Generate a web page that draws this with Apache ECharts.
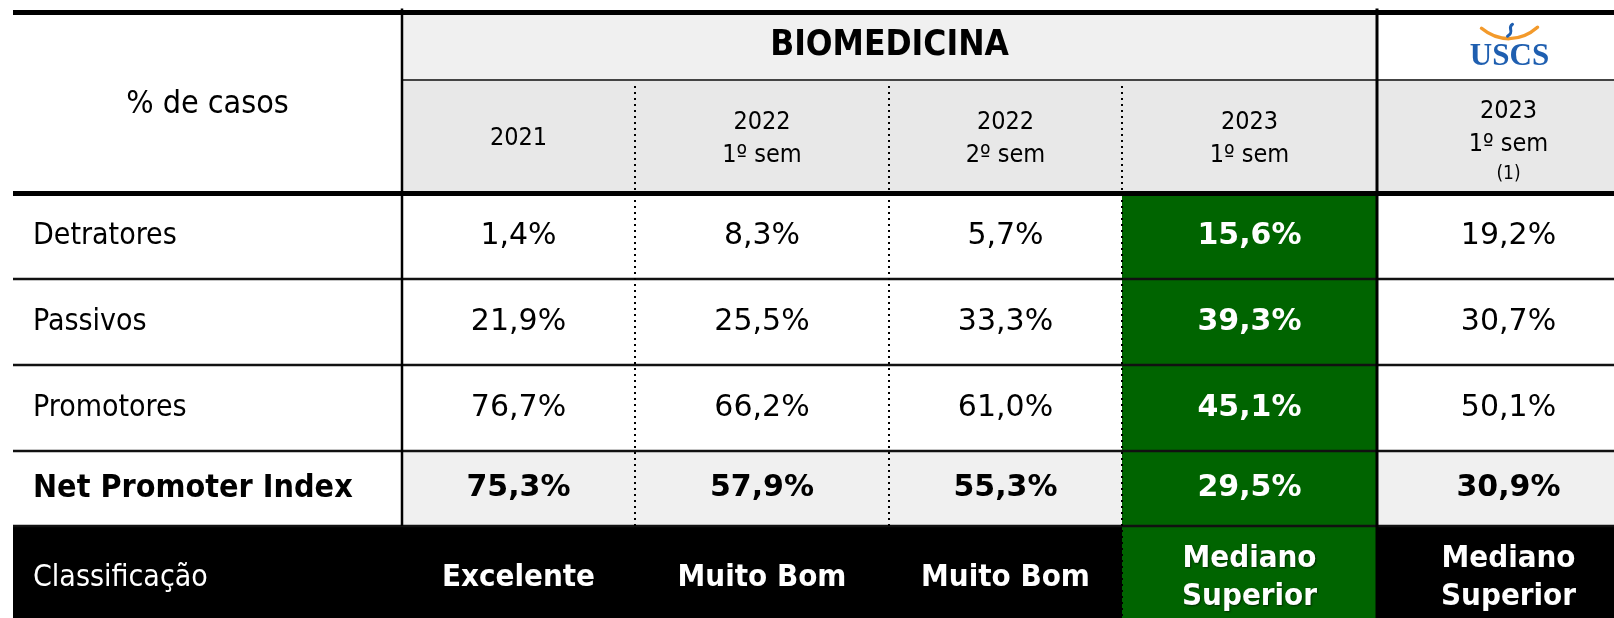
<!DOCTYPE html>
<html>
<head>
<meta charset="utf-8">
<script src="https://cdn.jsdelivr.net/npm/echarts@6/dist/echarts.min.js"></script>
<style>
  html, body { margin: 0; padding: 0; background: #fff; }
  #main { width: 1614px; height: 618px; }
</style>
</head>
<body>
<div id="main"></div>
<script>
// dados
const rowHeaderTitle = '% de casos';
const groupTitle = 'BIOMEDICINA';
const columns = ['2021', '2022\n1º sem', '2022\n2º sem', '2023\n1º sem', '2023\n1º sem\n(1)'];
const rowLabels = ['Detratores', 'Passivos', 'Promotores'];
const detratores = [1.4, 8.3, 5.7, 15.6, 19.2];
const passivos = [21.9, 25.5, 33.3, 39.3, 30.7];
const promotores = [76.7, 66.2, 61.0, 45.1, 50.1];
const npiLabel = 'Net Promoter Index';
const npi = [75.3, 57.9, 55.3, 29.5, 30.9];
const classLabel = 'Classificação';
const classificacao = ['Excelente', 'Muito Bom', 'Muito Bom', 'Mediano\nSuperior', 'Mediano\nSuperior'];
const highlightCol = 3;
const logoText = 'USCS';

(function () {

  let myChart = echarts.init(document.getElementById('main'));

  // layout (unidades do eixo = px)
  const colEdges = [13, 402, 635, 889, 1122, 1377, 1640];
  const rowEdges = [12.5, 80, 193.5, 279, 365, 451, 526, 630];
  const FONT = '"DejaVu Sans Condensed", "DejaVu Sans", sans-serif';
  const NUMFONT = '"DejaVu Sans", sans-serif';
  const green = '#006400';
  const grayA = '#f0f0f0';
  const grayB = '#e8e8e8';

  const fmt = v => v.toFixed(1).replace('.', ',') + '%';

  let cells = [];
  function cell(x0, x1, y0, y1, opts) {
    cells.push(Object.assign({ x0: x0, x1: x1, y0: y0, y1: y1, color: '#000', size: 30 }, opts));
  }

  cell(0, 1, 0, 2, { fill: '#fff', text: rowHeaderTitle, size: 32, dy: 2 });
  cell(1, 5, 0, 1, { fill: grayA, text: groupTitle, bold: true, size: 35 });
  cell(5, 6, 0, 1, { fill: '#fff', logo: true });
  columns.forEach((t, i) => {
    let rich = t.split('\n').map(s => (s.charAt(0) === '(' ? '{b|' : '{a|') + s + '}').join('\n');
    cell(i + 1, i + 2, 1, 2, { fill: grayB, rich: rich, dy: i === 4 ? 4 : 2 });
  });

  const rows = [detratores, passivos, promotores];
  rowLabels.forEach((lab, k) => {
    cell(0, 1, k + 2, k + 3, { fill: '#fff', text: lab, left: true });
    rows[k].forEach((v, i) => {
      let hl = i === highlightCol;
      cell(i + 1, i + 2, k + 2, k + 3, {
        fill: hl ? green : '#fff', text: fmt(v), bold: hl, num: true, color: hl ? '#fff' : '#000', size: 30
      });
    });
  });

  cell(0, 1, 5, 6, { fill: '#fff', text: npiLabel, left: true, bold: true, size: 32 });
  npi.forEach((v, i) => {
    let hl = i === highlightCol;
    cell(i + 1, i + 2, 5, 6, {
      fill: hl ? green : grayA, text: fmt(v), bold: true, num: true, color: hl ? '#fff' : '#000', size: 30
    });
  });

  cell(0, 1, 6, 7, { fill: '#000', text: classLabel, left: true, color: '#fff', shadow: true });
  classificacao.forEach((t, i) => {
    cell(i + 1, i + 2, 6, 7, {
      fill: i === highlightCol ? green : '#000', text: t, bold: true, color: '#fff', size: 31, shadow: true
    });
  });

  // linhas da tabela
  let lines = [];
  function hline(r, c0, c1, w, color) {
    lines.push({ x0: colEdges[c0], x1: colEdges[c1], y0: rowEdges[r], y1: rowEdges[r], w: w, color: color });
  }
  function vline(c, y0, y1, w, dash) {
    lines.push({ x0: colEdges[c], x1: colEdges[c], y0: y0, y1: y1, w: w, color: '#000', dash: dash });
  }
  hline(0, 0, 6, 5, '#000');
  hline(1, 1, 6, 2, '#444');
  hline(2, 0, 6, 5, '#000');
  [3, 4, 5, 6].forEach(r => hline(r, 0, 6, 2.5, '#111'));
  vline(1, rowEdges[0] - 4, rowEdges[6], 2.5);
  vline(5, rowEdges[0] - 4, rowEdges[7], 3);
  vline(2, rowEdges[1] + 6, rowEdges[6], 2, [2, 4]);
  vline(3, rowEdges[1] + 6, rowEdges[6], 2, [2, 4]);
  vline(4, rowEdges[1] + 6, rowEdges[7], 2, [2, 4]);

  function renderCell(params, api) {
    let d = cells[params.dataIndex];
    let p0 = api.coord([colEdges[d.x0], rowEdges[d.y0]]);
    let p1 = api.coord([colEdges[d.x1], rowEdges[d.y1]]);
    let cx = (p0[0] + p1[0]) / 2;
    let cy = (p0[1] + p1[1]) / 2;
    let children = [{
      type: 'rect',
      shape: { x: p0[0], y: p0[1], width: p1[0] - p0[0], height: p1[1] - p0[1] },
      style: { fill: d.fill }
    }];
    let shadow = d.shadow ? {
      textShadowColor: 'rgba(0,0,0,0.55)', textShadowBlur: 2, textShadowOffsetX: 1, textShadowOffsetY: 1
    } : {};
    if (d.text) {
      children.push({
        type: 'text',
        style: Object.assign({
          text: d.text,
          x: d.left ? p0[0] + 20 : cx,
          y: cy + (d.dy || 0),
          align: d.left ? 'left' : 'center',
          verticalAlign: 'middle',
          fill: d.color,
          fontFamily: d.num ? NUMFONT : FONT,
          fontSize: d.size,
          fontWeight: d.bold ? 'bold' : 'normal',
          lineHeight: 38
        }, shadow)
      });
    }
    if (d.rich) {
      children.push({
        type: 'text',
        style: {
          text: d.rich,
          x: cx,
          y: cy + (d.dy || 0),
          align: 'center',
          verticalAlign: 'middle',
          fill: '#000',
          fontFamily: FONT,
          rich: {
            a: { fontFamily: FONT, fontSize: 25, lineHeight: 33, fill: '#000' },
            b: { fontFamily: FONT, fontSize: 19, lineHeight: 26, fill: '#000' }
          }
        }
      });
    }
    if (d.logo) {
      children.push({
        type: 'bezierCurve',
        shape: { x1: cx - 27, y1: cy - 18, cpx1: cx - 10, cpy1: cy - 4, cpx2: cx + 12, cpy2: cy - 4, x2: cx + 29, y2: cy - 19 },
        style: { stroke: '#f39a2b', lineWidth: 3.5, fill: null, lineCap: 'round' }
      }, {
        type: 'bezierCurve',
        shape: { x1: cx + 4, y1: cy - 22, cpx1: cx - 2, cpy1: cy - 18, cpx2: cx + 7, cpy2: cy - 15, x2: cx - 1, y2: cy - 10 },
        style: { stroke: '#1f5fb0', lineWidth: 3, fill: null, lineCap: 'round' }
      }, {
        type: 'text',
        style: {
          text: logoText,
          x: cx + 1,
          y: cy + 11,
          align: 'center',
          verticalAlign: 'middle',
          fill: '#1f5fb0',
          fontFamily: '"Liberation Serif", serif',
          fontWeight: 'bold',
          fontSize: 31
        }
      });
    }
    return { type: 'group', children: children };
  }

  function renderLine(params, api) {
    let d = lines[params.dataIndex];
    let a = api.coord([d.x0, d.y0]);
    let b = api.coord([d.x1, d.y1]);
    return {
      type: 'line',
      shape: { x1: a[0], y1: a[1], x2: b[0], y2: b[1] },
      style: { stroke: d.color, lineWidth: d.w, lineDash: d.dash || null, lineCap: 'butt' }
    };
  }

  let option = {
    animation: false,
    grid: { left: 0, top: 0, width: 1614, height: 618 },
    xAxis: { type: 'value', min: 0, max: 1614, show: false },
    yAxis: { type: 'value', min: 0, max: 618, inverse: true, show: false },
    series: [
      {
        type: 'custom',
        renderItem: renderCell,
        data: cells.map(d => [colEdges[d.x0], rowEdges[d.y0]]),
        silent: true,
        z: 1
      },
      {
        type: 'custom',
        renderItem: renderLine,
        data: lines.map(d => [d.x0, d.y0]),
        silent: true,
        z: 2
      }
    ]
  };

  myChart.setOption(option);
  window.addEventListener('resize', function () {
    myChart.resize();
  });

})();
</script>
</body>
</html>
